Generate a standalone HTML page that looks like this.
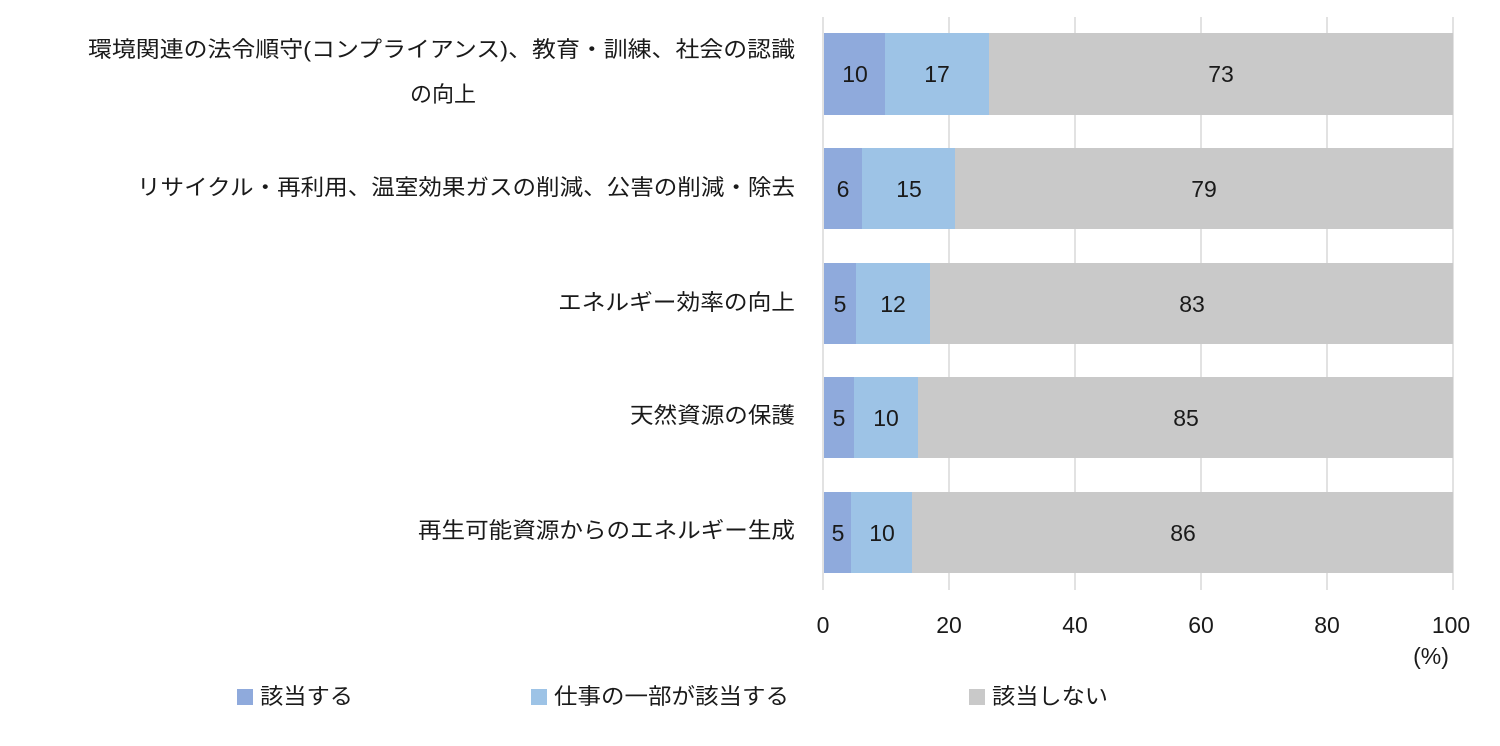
<!DOCTYPE html>
<html><head><meta charset="utf-8"><style>
body{margin:0;background:#fff;}
svg text{font-family:"Liberation Sans","Noto Sans CJK JP",sans-serif;fill:#1a1a1a;}
</style></head><body>
<svg width="1500" height="741" xmlns="http://www.w3.org/2000/svg">
<g stroke="#d9d9d9" stroke-width="1.5">
<line x1="823" y1="17" x2="823" y2="590"/><line x1="949" y1="17" x2="949" y2="590"/>
<line x1="1075" y1="17" x2="1075" y2="590"/><line x1="1201" y1="17" x2="1201" y2="590"/>
<line x1="1327" y1="17" x2="1327" y2="590"/><line x1="1453" y1="17" x2="1453" y2="590"/>
</g>
<g>
<rect x="824" y="33" width="61" height="82" fill="#8faadc"/><rect x="885" y="33" width="104" height="82" fill="#9dc3e6"/><rect x="989" y="33" width="464" height="82" fill="#c9c9c9"/>
<rect x="824" y="148" width="38" height="81" fill="#8faadc"/><rect x="862" y="148" width="93" height="81" fill="#9dc3e6"/><rect x="955" y="148" width="498" height="81" fill="#c9c9c9"/>
<rect x="824" y="263" width="32" height="81" fill="#8faadc"/><rect x="856" y="263" width="74" height="81" fill="#9dc3e6"/><rect x="930" y="263" width="523" height="81" fill="#c9c9c9"/>
<rect x="824" y="377" width="30" height="81" fill="#8faadc"/><rect x="854" y="377" width="64" height="81" fill="#9dc3e6"/><rect x="918" y="377" width="535" height="81" fill="#c9c9c9"/>
<rect x="824" y="492" width="27" height="81" fill="#8faadc"/><rect x="851" y="492" width="61" height="81" fill="#9dc3e6"/><rect x="912" y="492" width="541" height="81" fill="#c9c9c9"/>
</g>
<g font-size="23" text-anchor="middle">
<text x="855" y="82">10</text><text x="937" y="82">17</text><text x="1221" y="82">73</text>
<text x="843" y="197">6</text><text x="909" y="197">15</text><text x="1204" y="197">79</text>
<text x="840" y="312">5</text><text x="893" y="312">12</text><text x="1192" y="312">83</text>
<text x="839" y="426">5</text><text x="886" y="426">10</text><text x="1186" y="426">85</text>
<text x="838" y="541">5</text><text x="882" y="541">10</text><text x="1183" y="541">86</text>
</g>
<g font-size="22">
<text x="88" y="57" textLength="707" lengthAdjust="spacingAndGlyphs">環境関連の法令順守(コンプライアンス)、教育・訓練、社会の認識</text>
<text x="410" y="102">の向上</text>
<text x="137" y="195" textLength="658" lengthAdjust="spacingAndGlyphs">リサイクル・再利用、温室効果ガスの削減、公害の削減・除去</text>
<text x="558" y="310" textLength="237" lengthAdjust="spacingAndGlyphs">エネルギー効率の向上</text>
<text x="630" y="423" textLength="165" lengthAdjust="spacingAndGlyphs">天然資源の保護</text>
<text x="418" y="538" textLength="377" lengthAdjust="spacingAndGlyphs">再生可能資源からのエネルギー生成</text>
</g>
<g font-size="23" text-anchor="middle">
<text x="823" y="633">0</text><text x="949" y="633">20</text><text x="1075" y="633">40</text>
<text x="1201" y="633">60</text><text x="1327" y="633">80</text><text x="1451" y="633">100</text>
<text x="1431" y="664">(%)</text>
</g>
<g font-size="22">
<rect x="237" y="689" width="16" height="16" fill="#8faadc"/><text x="260" y="704" textLength="93" lengthAdjust="spacingAndGlyphs">該当する</text>
<rect x="531" y="689" width="16" height="16" fill="#9dc3e6"/><text x="554" y="704" textLength="235" lengthAdjust="spacingAndGlyphs">仕事の一部が該当する</text>
<rect x="969" y="689" width="16" height="16" fill="#c9c9c9"/><text x="992" y="704" textLength="116" lengthAdjust="spacingAndGlyphs">該当しない</text>
</g>
</svg>
</body></html>
